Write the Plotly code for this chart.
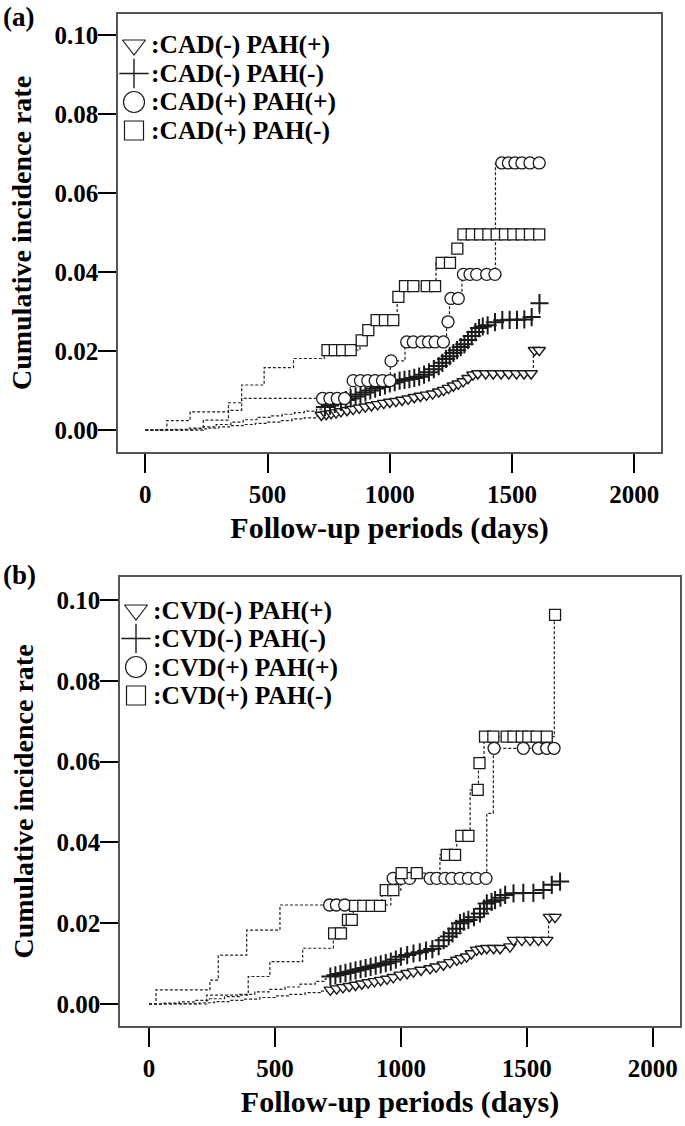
import plotly.graph_objects as go

# ---------------- data ----------------
day_ticks = [0, 500, 1000, 1500, 2000]
rate_ticks = [0.00, 0.02, 0.04, 0.06, 0.08, 0.10]

# ---- panel (a) : CAD ----
a_names = [":CAD(-) PAH(+)", ":CAD(-) PAH(-)", ":CAD(+) PAH(+)", ":CAD(+) PAH(-)"]

# CAD(-) PAH(+)  (triangles)
a_tri_ev_days = [0, 150, 200, 250, 300, 350, 400, 450, 500, 550, 600, 650, 700, 1587]
a_tri_ev_rate = [0, 0.0001, 0.0003, 0.0005, 0.0008, 0.0011, 0.0014, 0.0017, 0.0020, 0.0024, 0.0028, 0.0031, 0.0035, 0.0202]
a_tri_cen_days = [720, 740, 760, 780, 800, 825, 850, 875, 900, 925, 950, 975, 1000, 1025, 1050, 1075, 1100,
                  1125, 1150, 1175, 1200, 1220, 1240, 1260, 1280, 1300, 1320, 1340, 1360, 1392, 1423, 1455,
                  1486, 1518, 1549, 1578, 1592, 1611]
a_tri_cen_rate = [0.0038, 0.0040, 0.0042, 0.0044, 0.0047, 0.0050, 0.0053, 0.0056, 0.0059, 0.0062, 0.0065,
                  0.0068, 0.0071, 0.0073, 0.0076, 0.0079, 0.0083, 0.0086, 0.0089, 0.0092, 0.0097, 0.0101,
                  0.0106, 0.0112, 0.0117, 0.0123, 0.0131, 0.0140, 0.0143, 0.0143, 0.0143, 0.0143, 0.0143,
                  0.0143, 0.0143, 0.0143, 0.0202, 0.0202]

# CAD(-) PAH(-)  (plus)
a_plus_ev_days = [0, 60, 120, 180, 237, 290, 350, 400, 456, 510, 560, 610, 650, 700]
a_plus_ev_rate = [0, 0.0001, 0.0002, 0.0005, 0.0008, 0.0014, 0.0020, 0.0026, 0.0032, 0.0036, 0.0040, 0.0044, 0.0048, 0.0053]
a_plus_cen_days = [735, 755, 775, 800, 820, 840, 860, 880, 900, 920, 940, 960, 980, 1000, 1020, 1040, 1060,
                   1080, 1100, 1120, 1140, 1160, 1180, 1200, 1215, 1230, 1245, 1260, 1275, 1290, 1305, 1320,
                   1335, 1350, 1365, 1380, 1400, 1430, 1460, 1490, 1520, 1550, 1580, 1612]
a_plus_cen_rate = [0.0058, 0.0062, 0.0066, 0.0071, 0.0076, 0.0080, 0.0085, 0.0090, 0.0095, 0.0100, 0.0105,
                   0.0109, 0.0113, 0.0118, 0.0121, 0.0125, 0.0127, 0.0129, 0.0132, 0.0135, 0.0140, 0.0146,
                   0.0154, 0.0162, 0.0170, 0.0180, 0.0187, 0.0195, 0.0202, 0.0210, 0.0217, 0.0228, 0.0238,
                   0.0248, 0.0258, 0.0262, 0.0265, 0.0273, 0.0278, 0.0279, 0.0279, 0.0280, 0.0286, 0.0321]

# CAD(+) PAH(+)  (circles)
a_cir_ev_days = [0, 237, 340, 394, 838, 1002, 1062, 1232, 1244, 1295, 1432]
a_cir_ev_rate = [0, 0.0025, 0.0050, 0.0080, 0.0125, 0.0175, 0.0223, 0.0274, 0.0333, 0.0394, 0.0676]
a_cir_cen_days = [725, 755, 785, 815, 850, 880, 910, 940, 970, 1000, 1005, 1069, 1096, 1131, 1158, 1185,
                  1219, 1238, 1250, 1280, 1301, 1328, 1355, 1396, 1430, 1458, 1485, 1512, 1540, 1573, 1611]
a_cir_cen_rate = [0.0080, 0.0080, 0.0080, 0.0080, 0.0125, 0.0125, 0.0125, 0.0125, 0.0125, 0.0125, 0.0175,
                  0.0223, 0.0223, 0.0223, 0.0223, 0.0223, 0.0223, 0.0274, 0.0333, 0.0333, 0.0394, 0.0394,
                  0.0394, 0.0394, 0.0394, 0.0676, 0.0676, 0.0676, 0.0676, 0.0676, 0.0676]

# CAD(+) PAH(-)  (squares)
a_sq_ev_days = [0, 88, 183, 340, 394, 486, 606, 732, 878, 903, 925, 1030, 1050, 1189, 1266, 1290]
a_sq_ev_rate = [0, 0.0024, 0.0046, 0.0069, 0.0114, 0.0158, 0.0181, 0.0202, 0.0227, 0.0253, 0.0278,
                0.0337, 0.0364, 0.0423, 0.0459, 0.0495]
a_sq_cen_days = [745, 775, 805, 840, 885, 912, 946, 980, 1014, 1035, 1062, 1096, 1151, 1185, 1212, 1246,
                 1276, 1301, 1335, 1369, 1403, 1437, 1471, 1505, 1539, 1573, 1611]
a_sq_cen_rate = [0.0202, 0.0202, 0.0202, 0.0202, 0.0227, 0.0253, 0.0278, 0.0278, 0.0278, 0.0337, 0.0364,
                 0.0364, 0.0364, 0.0364, 0.0423, 0.0423, 0.0459, 0.0495, 0.0495, 0.0495, 0.0495, 0.0495,
                 0.0495, 0.0495, 0.0495, 0.0495, 0.0495]

# ---- panel (b) : CVD ----
b_names = [":CVD(-) PAH(+)", ":CVD(-) PAH(-)", ":CVD(+) PAH(+)", ":CVD(+) PAH(-)"]

b_tri_ev_days = [0, 100, 200, 260, 320, 380, 440, 500, 560, 620, 680, 1586]
b_tri_ev_rate = [0, 0.0001, 0.0003, 0.0006, 0.0009, 0.0012, 0.0016, 0.0020, 0.0024, 0.0028, 0.0032, 0.0215]
b_tri_cen_days = [720, 745, 770, 795, 820, 845, 870, 895, 920, 945, 970, 997, 1025, 1050, 1080, 1116, 1140,
                  1169, 1195, 1222, 1240, 1261, 1280, 1301, 1320, 1341, 1368, 1394, 1433, 1447, 1480, 1513,
                  1546, 1579, 1590, 1612]
b_tri_cen_rate = [0.0035, 0.0038, 0.0041, 0.0044, 0.0047, 0.0050, 0.0053, 0.0056, 0.0059, 0.0062, 0.0066,
                  0.0072, 0.0076, 0.0080, 0.0084, 0.0088, 0.0092, 0.0097, 0.0103, 0.0109, 0.0113, 0.0117,
                  0.0125, 0.0134, 0.0136, 0.0138, 0.0138, 0.0138, 0.0142, 0.0158, 0.0158, 0.0158, 0.0158,
                  0.0158, 0.0215, 0.0215]

b_plus_ev_days = [0, 60, 120, 180, 240, 300, 360, 420, 480, 540, 600, 660, 700]
b_plus_ev_rate = [0, 0.0002, 0.0005, 0.0009, 0.0013, 0.0018, 0.0024, 0.0030, 0.0036, 0.0042, 0.0049, 0.0056, 0.0062]
b_plus_cen_days = [720, 740, 760, 780, 800, 820, 840, 860, 880, 900, 920, 940, 960, 980, 1000, 1025, 1050,
                   1075, 1100, 1125, 1150, 1170, 1190, 1205, 1220, 1235, 1250, 1268, 1290, 1314, 1330, 1341,
                   1360, 1374, 1395, 1414, 1447, 1486, 1526, 1566, 1599, 1632]
b_plus_cen_rate = [0.0068, 0.0071, 0.0074, 0.0077, 0.0080, 0.0083, 0.0086, 0.0089, 0.0092, 0.0095, 0.0098,
                   0.0101, 0.0105, 0.0110, 0.0117, 0.0121, 0.0125, 0.0128, 0.0132, 0.0136, 0.0143, 0.0158,
                   0.0167, 0.0175, 0.0186, 0.0200, 0.0204, 0.0208, 0.0215, 0.0224, 0.0236, 0.0249, 0.0253,
                   0.0257, 0.0263, 0.0270, 0.0274, 0.0275, 0.0275, 0.0282, 0.0295, 0.0303]

b_cir_ev_days = [0, 28, 242, 275, 388, 520, 960, 1341, 1367]
b_cir_ev_rate = [0, 0.0035, 0.0059, 0.0121, 0.0183, 0.0245, 0.0311, 0.0472, 0.0633]
b_cir_cen_days = [717, 744, 777, 969, 1002, 1035, 1116, 1142, 1175, 1202, 1235, 1268, 1301, 1338, 1370,
                  1486, 1546, 1579, 1608]
b_cir_cen_rate = [0.0245, 0.0245, 0.0245, 0.0311, 0.0311, 0.0311, 0.0311, 0.0311, 0.0311, 0.0311, 0.0311,
                  0.0311, 0.0311, 0.0311, 0.0633, 0.0633, 0.0633, 0.0633, 0.0633]

b_sq_ev_days = [0, 229, 394, 480, 610, 732, 775, 811, 925, 1000, 1155, 1222, 1275, 1308, 1330, 1609]
b_sq_ev_rate = [0, 0.0022, 0.0068, 0.0105, 0.0138, 0.0175, 0.0208, 0.0243, 0.0282, 0.0324, 0.0369,
                0.0416, 0.0530, 0.0596, 0.0662, 0.0963]
b_sq_cen_days = [735, 762, 790, 805, 818, 851, 884, 917, 940, 970, 1003, 1063, 1182, 1215, 1240, 1268,
                 1305, 1312, 1334, 1367, 1420, 1447, 1480, 1506, 1539, 1579, 1612]
b_sq_cen_rate = [0.0175, 0.0175, 0.0208, 0.0208, 0.0243, 0.0243, 0.0243, 0.0243, 0.0282, 0.0282, 0.0324,
                 0.0324, 0.0369, 0.0369, 0.0416, 0.0416, 0.0530, 0.0596, 0.0662, 0.0662, 0.0662, 0.0662,
                 0.0662, 0.0662, 0.0662, 0.0662, 0.0963]

# ---------------- figure ----------------
W, H = 685, 1126
FONT = "Liberation Serif"
LINE_COL = "#222222"
MK_COL = "#1a1a1a"
ROW = 28.5          # legend row pitch (px)


def merge_path(ev_d, ev_r, c_d, c_r):
    pts = [(d, 0, r) for d, r in zip(ev_d, ev_r)] + [(d, 1, r) for d, r in zip(c_d, c_r)]
    pts.sort()
    return [p[0] for p in pts], [p[2] for p in pts]


def px_x(v):
    return v / W


def px_y(v):
    return 1 - v / H


symbols = ["triangle-down", "cross-thin", "circle", "square"]
mk_size = [11, 13, 12, 11]
mk_width = [1.4, 2.0, 1.3, 1.3]
key_size = [20, 21, 21, 19]
key_width = [1.2, 1.4, 1.2, 1.2]

panels = [
    dict(xa="x", ya="y", kx="x3", ky="y3", names=a_names, leg_x=121, leg_y0=45, lab_y=0, lab="(a)",
         series=[(a_tri_ev_days, a_tri_ev_rate, a_tri_cen_days, a_tri_cen_rate),
                 (a_plus_ev_days, a_plus_ev_rate, a_plus_cen_days, a_plus_cen_rate),
                 (a_cir_ev_days, a_cir_ev_rate, a_cir_cen_days, a_cir_cen_rate),
                 (a_sq_ev_days, a_sq_ev_rate, a_sq_cen_days, a_sq_cen_rate)]),
    dict(xa="x2", ya="y2", kx="x4", ky="y4", names=b_names, leg_x=123, leg_y0=610, lab_y=558, lab="(b)",
         series=[(b_tri_ev_days, b_tri_ev_rate, b_tri_cen_days, b_tri_cen_rate),
                 (b_plus_ev_days, b_plus_ev_rate, b_plus_cen_days, b_plus_cen_rate),
                 (b_cir_ev_days, b_cir_ev_rate, b_cir_cen_days, b_cir_cen_rate),
                 (b_sq_ev_days, b_sq_ev_rate, b_sq_cen_days, b_sq_cen_rate)]),
]


def mstyle(i, size, width):
    fill = MK_COL if symbols[i] == "cross-thin" else "white"
    return dict(symbol=symbols[i], size=size, color=fill, line=dict(color=MK_COL, width=width))


fig = go.Figure()
annotations = []
key_axes = {}
for p in panels:
    for s in p["series"]:
        lx, ly = merge_path(*s)
        fig.add_trace(go.Scatter(x=lx, y=ly, mode="lines", xaxis=p["xa"], yaxis=p["ya"],
                                 line=dict(shape="hv", dash="3px,2px", width=1.2, color=LINE_COL),
                                 showlegend=False, hoverinfo="skip"))
    for i, (s, name) in enumerate(zip(p["series"], p["names"])):
        fig.add_trace(go.Scatter(x=s[2], y=s[3], mode="markers", xaxis=p["xa"], yaxis=p["ya"],
                                 marker=mstyle(i, mk_size[i], mk_width[i]), name=name, showlegend=False))
    # legend key: one row per series on a hidden helper axis (row index 0..3)
    for i, name in enumerate(p["names"]):
        fig.add_trace(go.Scatter(x=[0.5], y=[i], mode="markers", xaxis=p["kx"], yaxis=p["ky"],
                                 marker=mstyle(i, key_size[i], key_width[i]), showlegend=False,
                                 hoverinfo="skip", cliponaxis=False))
        annotations.append(dict(text=name, x=1, y=i, xref=p["kx"], yref=p["ky"], xshift=2,
                                xanchor="left", yanchor="middle", showarrow=False,
                                font=dict(family=FONT, size=25.5, color="black", weight="bold")))
    top = p["leg_y0"] - ROW / 2
    key_axes[p["kx"]] = dict(domain=[px_x(p["leg_x"]), px_x(p["leg_x"] + 26)], range=[0, 1],
                             visible=False, fixedrange=True, anchor=p["ky"])
    key_axes[p["ky"]] = dict(domain=[px_y(top + 4 * ROW), px_y(top)], range=[3.5, -0.5],
                             visible=False, fixedrange=True, anchor=p["kx"])
    annotations.append(dict(text=p["lab"], x=px_x(1), y=px_y(p["lab_y"]), xref="paper", yref="paper",
                            xanchor="left", yanchor="top", showarrow=False,
                            font=dict(family=FONT, size=27, color="black", weight="bold")))

tickfont = dict(family=FONT, size=25, color="black", weight="bold")

common_x = dict(tickvals=day_ticks, ticks="outside", ticklen=19, tickwidth=1.5, tickcolor="black",
                showline=True, mirror=True, linecolor="#555", linewidth=1.6, showgrid=False,
                zeroline=False, tickfont=tickfont, ticklabelstandoff=0,
                title=dict(text="Follow-up periods (days)", standoff=10,
                           font=dict(family=FONT, size=30, color="black", weight="bold")))
common_y = dict(tickvals=rate_ticks, tickformat=".2f", ticks="outside", ticklen=18, tickwidth=1.5,
                tickcolor="black", showline=True, mirror=True, linecolor="#555", linewidth=1.6,
                showgrid=False, zeroline=False, tickfont=tickfont, ticklabelstandoff=-5,
                title=dict(text="Cumulative incidence rate", standoff=15,
                           font=dict(family=FONT, size=28, color="black", weight="bold")))

fig.update_layout(
    width=W, height=H, margin=dict(l=0, r=0, t=0, b=0),
    paper_bgcolor="white", plot_bgcolor="white", showlegend=False,
    xaxis=dict(common_x, domain=[px_x(118), px_x(661)], range=[-111.7, 2109], anchor="y"),
    yaxis=dict(common_y, domain=[px_y(452), px_y(14)], range=[-0.00556, 0.1053], anchor="x"),
    xaxis2=dict(common_x, domain=[px_x(120), px_x(680)], range=[-115, 2108], anchor="y2"),
    yaxis2=dict(common_y, domain=[px_y(1026), px_y(577)], range=[-0.00545, 0.1057], anchor="x2"),
    annotations=annotations,
)
fig.update_layout(**{k.replace("x", "xaxis").replace("y", "yaxis"): v for k, v in key_axes.items()})

fig.write_html("out.html", config={"displayModeBar": False},
               post_script="document.body.style.margin='0px';")
